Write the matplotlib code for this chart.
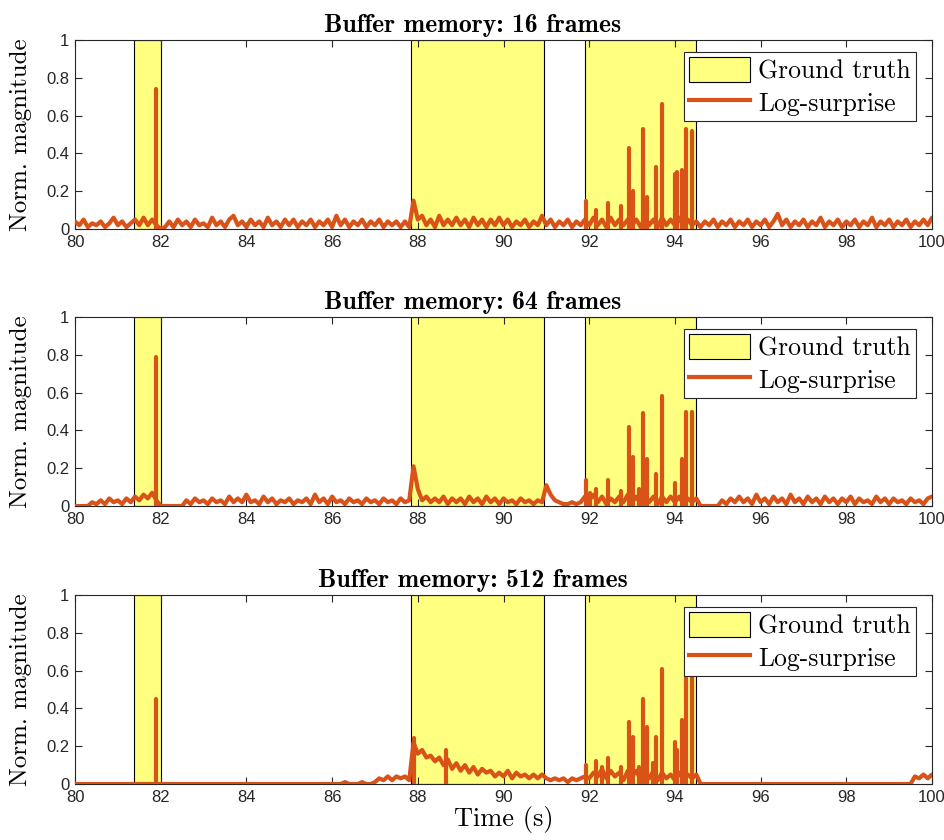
import numpy as np
import matplotlib
matplotlib.use("Agg")
import matplotlib.pyplot as plt
from matplotlib.patches import Patch
from matplotlib.lines import Line2D
from matplotlib.ticker import FuncFormatter

# ---------------- data ----------------
titles = ["Buffer memory: 16 frames", "Buffer memory: 64 frames", "Buffer memory: 512 frames"]
gt_start = [81.38, 87.83, 91.90]
gt_end = [82.00, 90.94, 94.49]

t_base = np.round(np.arange(80.0, 100.0001, 0.1), 2)

base_16 = [
    0.04, 0.02, 0.05, 0.01, 0.03, 0.02, 0.04, 0.01, 0.03, 0.06,
    0.02, 0.04, 0.01, 0.03, 0.05, 0.02, 0.06, 0.02, 0.05, 0.02,
    0.00, 0.01, 0.04, 0.01, 0.05, 0.02, 0.04, 0.01, 0.05, 0.02,
    0.03, 0.01, 0.06, 0.02, 0.04, 0.01, 0.05, 0.07, 0.02, 0.04,
    0.01, 0.05, 0.02, 0.04, 0.01, 0.06, 0.02, 0.04, 0.01, 0.05,
    0.02, 0.05, 0.01, 0.04, 0.02, 0.05, 0.01, 0.04, 0.02, 0.05,
    0.01, 0.07, 0.02, 0.05, 0.01, 0.04, 0.02, 0.05, 0.01, 0.04,
    0.02, 0.05, 0.01, 0.04, 0.02, 0.04, 0.01, 0.04, 0.01, 0.15,
    0.05, 0.07, 0.02, 0.05, 0.01, 0.07, 0.02, 0.05, 0.02, 0.06,
    0.02, 0.05, 0.01, 0.06, 0.02, 0.05, 0.01, 0.05, 0.02, 0.06,
    0.02, 0.05, 0.01, 0.04, 0.02, 0.05, 0.01, 0.04, 0.02, 0.07,
    0.02, 0.05, 0.01, 0.04, 0.02, 0.05, 0.01, 0.04, 0.02, 0.05,
    0.02, 0.06, 0.02, 0.05, 0.01, 0.06, 0.02, 0.05, 0.02, 0.05,
    0.02, 0.05, 0.01, 0.06, 0.02, 0.05, 0.01, 0.06, 0.02, 0.05,
    0.02, 0.06, 0.01, 0.05, 0.02, 0.04, 0.01, 0.04, 0.02, 0.05,
    0.01, 0.04, 0.02, 0.05, 0.01, 0.04, 0.02, 0.05, 0.01, 0.04,
    0.02, 0.05, 0.01, 0.04, 0.08, 0.02, 0.05, 0.01, 0.04, 0.02,
    0.05, 0.01, 0.04, 0.02, 0.06, 0.01, 0.04, 0.02, 0.05, 0.01,
    0.04, 0.02, 0.05, 0.01, 0.04, 0.02, 0.06, 0.01, 0.04, 0.02,
    0.05, 0.01, 0.04, 0.02, 0.05, 0.01, 0.04, 0.02, 0.05, 0.02,
    0.06,
]

base_64 = [
    0.00, 0.00, 0.00, 0.00, 0.02, 0.01, 0.03, 0.01, 0.04, 0.02,
    0.03, 0.01, 0.04, 0.02, 0.05, 0.03, 0.06, 0.04, 0.07, 0.03,
    0.00, 0.00, 0.00, 0.00, 0.00, 0.00, 0.03, 0.01, 0.04, 0.02,
    0.03, 0.01, 0.04, 0.02, 0.03, 0.01, 0.05, 0.02, 0.04, 0.02,
    0.06, 0.02, 0.03, 0.01, 0.05, 0.02, 0.04, 0.01, 0.03, 0.02,
    0.04, 0.01, 0.03, 0.02, 0.04, 0.01, 0.06, 0.02, 0.04, 0.01,
    0.05, 0.02, 0.03, 0.01, 0.04, 0.02, 0.03, 0.01, 0.04, 0.02,
    0.03, 0.01, 0.04, 0.02, 0.03, 0.01, 0.04, 0.02, 0.03, 0.21,
    0.09, 0.03, 0.05, 0.02, 0.04, 0.02, 0.05, 0.01, 0.04, 0.02,
    0.04, 0.01, 0.05, 0.02, 0.04, 0.01, 0.05, 0.02, 0.04, 0.01,
    0.04, 0.02, 0.03, 0.01, 0.04, 0.02, 0.03, 0.01, 0.03, 0.02,
    0.11, 0.06, 0.03, 0.02, 0.01, 0.01, 0.02, 0.01, 0.02, 0.05,
    0.03, 0.06, 0.02, 0.05, 0.01, 0.04, 0.02, 0.05, 0.02, 0.06,
    0.02, 0.05, 0.01, 0.06, 0.02, 0.05, 0.01, 0.05, 0.02, 0.05,
    0.02, 0.05, 0.01, 0.04, 0.02, 0.04, 0.00, 0.00, 0.00, 0.00,
    0.00, 0.03, 0.01, 0.04, 0.02, 0.05, 0.02, 0.04, 0.01, 0.06,
    0.02, 0.04, 0.01, 0.05, 0.02, 0.04, 0.01, 0.06, 0.02, 0.04,
    0.01, 0.05, 0.02, 0.04, 0.01, 0.05, 0.02, 0.04, 0.01, 0.04,
    0.02, 0.05, 0.01, 0.04, 0.02, 0.03, 0.01, 0.05, 0.02, 0.04,
    0.01, 0.04, 0.02, 0.03, 0.01, 0.04, 0.02, 0.03, 0.01, 0.04,
    0.05,
]

base_512 = [
    0.00, 0.00, 0.00, 0.00, 0.00, 0.00, 0.00, 0.00, 0.00, 0.00,
    0.00, 0.00, 0.00, 0.00, 0.00, 0.00, 0.00, 0.00, 0.00, 0.00,
    0.00, 0.00, 0.00, 0.00, 0.00, 0.00, 0.00, 0.00, 0.00, 0.00,
    0.00, 0.00, 0.00, 0.00, 0.00, 0.00, 0.00, 0.00, 0.00, 0.00,
    0.00, 0.00, 0.00, 0.00, 0.00, 0.00, 0.00, 0.00, 0.00, 0.00,
    0.00, 0.00, 0.00, 0.00, 0.00, 0.00, 0.00, 0.00, 0.00, 0.00,
    0.00, 0.00, 0.00, 0.01, 0.00, 0.00, 0.00, 0.01, 0.00, 0.00,
    0.01, 0.03, 0.02, 0.04, 0.02, 0.04, 0.03, 0.04, 0.02, 0.22,
    0.16, 0.18, 0.14, 0.15, 0.12, 0.14, 0.10, 0.13, 0.08, 0.11,
    0.07, 0.10, 0.06, 0.09, 0.05, 0.08, 0.06, 0.07, 0.04, 0.06,
    0.04, 0.07, 0.03, 0.06, 0.04, 0.05, 0.03, 0.05, 0.03, 0.05,
    0.03, 0.02, 0.03, 0.02, 0.03, 0.01, 0.03, 0.02, 0.03, 0.04,
    0.03, 0.06, 0.04, 0.08, 0.03, 0.07, 0.04, 0.06, 0.02, 0.07,
    0.04, 0.07, 0.02, 0.06, 0.03, 0.07, 0.02, 0.06, 0.03, 0.05,
    0.02, 0.06, 0.02, 0.05, 0.03, 0.05, 0.00, 0.00, 0.00, 0.00,
    0.00, 0.00, 0.00, 0.00, 0.00, 0.00, 0.00, 0.00, 0.00, 0.00,
    0.00, 0.00, 0.00, 0.00, 0.00, 0.00, 0.00, 0.00, 0.00, 0.00,
    0.00, 0.00, 0.00, 0.00, 0.00, 0.00, 0.00, 0.00, 0.00, 0.00,
    0.00, 0.00, 0.00, 0.00, 0.00, 0.00, 0.00, 0.00, 0.00, 0.00,
    0.00, 0.00, 0.00, 0.00, 0.00, 0.00, 0.04, 0.03, 0.05, 0.03,
    0.05,
]

spike_t_16 = [81.88, 91.93, 92.16, 92.45, 92.75, 92.92, 93.03, 93.26, 93.36,
              93.57, 93.70, 94.00, 94.04, 94.16, 94.27, 94.41]
spike_v_16 = [0.74, 0.15, 0.10, 0.14, 0.12, 0.43, 0.20, 0.53, 0.17,
              0.33, 0.66, 0.29, 0.30, 0.31, 0.53, 0.52]

spike_t_64 = [81.88, 91.93, 92.03, 92.16, 92.45, 92.75, 92.92, 93.03, 93.16,
              93.26, 93.36, 93.57, 93.70, 94.00, 94.16, 94.27, 94.41]
spike_v_64 = [0.79, 0.14, 0.07, 0.09, 0.14, 0.08, 0.42, 0.26, 0.09,
              0.49, 0.25, 0.17, 0.58, 0.12, 0.25, 0.50, 0.50]

spike_t_512 = [81.88, 87.92, 88.65, 91.93, 92.16, 92.30, 92.45, 92.75, 92.92,
               93.03, 93.16, 93.26, 93.36, 93.48, 93.57, 93.70, 94.00, 94.04,
               94.16, 94.27, 94.41]
spike_v_512 = [0.45, 0.245, 0.18, 0.10, 0.12, 0.09, 0.14, 0.09, 0.33,
               0.25, 0.09, 0.45, 0.30, 0.11, 0.25, 0.61, 0.22, 0.18,
               0.34, 0.57, 0.57]

bases = [base_16, base_64, base_512]
spikes_t = [spike_t_16, spike_t_64, spike_t_512]
spikes_v = [spike_v_16, spike_v_64, spike_v_512]

xticks = [80, 82, 84, 86, 88, 90, 92, 94, 96, 98, 100]
yticks = [0, 0.2, 0.4, 0.6, 0.8, 1]

# ---------------- style ----------------
LINE_C = "#D95319"
GT_C = "#FFFF80"
AX_C = "#262626"
serif = "cmr10"
serif_b = "cmb10"
tickfont = "Liberation Sans"
LW = 3.0

fig = plt.figure(figsize=(9.45, 8.4), dpi=100)

W = 945.0
H = 840.0
left = 75 / W
width = (932 - 75) / W
tops = [40, 317, 595]
bots = [229, 506, 784]
title_x = (W / 2 - 75) / (932 - 75)

for i in range(3):
    ax = fig.add_axes([left, 1 - bots[i] / H, width, (bots[i] - tops[i]) / H])
    for s, e in zip(gt_start, gt_end):
        ax.axvspan(s, e, ymin=0, ymax=1, facecolor=GT_C, edgecolor="black",
                   linewidth=0.8, zorder=1)
    ax.plot(t_base, bases[i], color=LINE_C, lw=LW, solid_joinstyle="round",
            solid_capstyle="round", zorder=3)
    ax.vlines(spikes_t[i], 0, spikes_v[i], color=LINE_C, lw=LW,
              capstyle="round", zorder=3)
    ax.set_xlim(80, 100)
    ax.set_ylim(0, 1)
    ax.set_xticks(xticks)
    ax.set_yticks(yticks)
    ax.yaxis.set_major_formatter(FuncFormatter(lambda v, p: f"{v:g}"))
    ax.tick_params(direction="in", length=5, width=0.8, color=AX_C,
                   top=True, right=True, labelsize=12, labelcolor=AX_C, pad=4)
    for lab in ax.get_xticklabels() + ax.get_yticklabels():
        lab.set_fontfamily(tickfont)
    for sp in ax.spines.values():
        sp.set_color(AX_C)
        sp.set_linewidth(0.8)
    ax.set_title(titles[i], fontfamily=serif_b, fontsize=18.5, pad=6,
                 color="black", x=title_x)
    ax.set_ylabel("Norm. magnitude", fontfamily=serif, fontsize=18, labelpad=10)
    handles = [Patch(facecolor=GT_C, edgecolor="black", linewidth=0.8),
               Line2D([0], [0], color=LINE_C, lw=LW)]
    leg = ax.legend(handles, ["Ground truth", "Log-surprise"],
                    loc="upper right", bbox_to_anchor=(1 - 16 / 857, 1 - 12 / 189),
                    borderaxespad=0, fancybox=False, framealpha=1,
                    edgecolor=AX_C, prop={"family": serif, "size": 18.5},
                    handlelength=2.4, handleheight=1.1, handletextpad=0.3,
                    borderpad=0.2, labelspacing=0.25)
    leg.get_frame().set_linewidth(0.8)
    if i == 2:
        ax.set_xlabel("Time (s)", fontfamily=serif, fontsize=19, labelpad=1)

fig.savefig("out.png", dpi=100)
